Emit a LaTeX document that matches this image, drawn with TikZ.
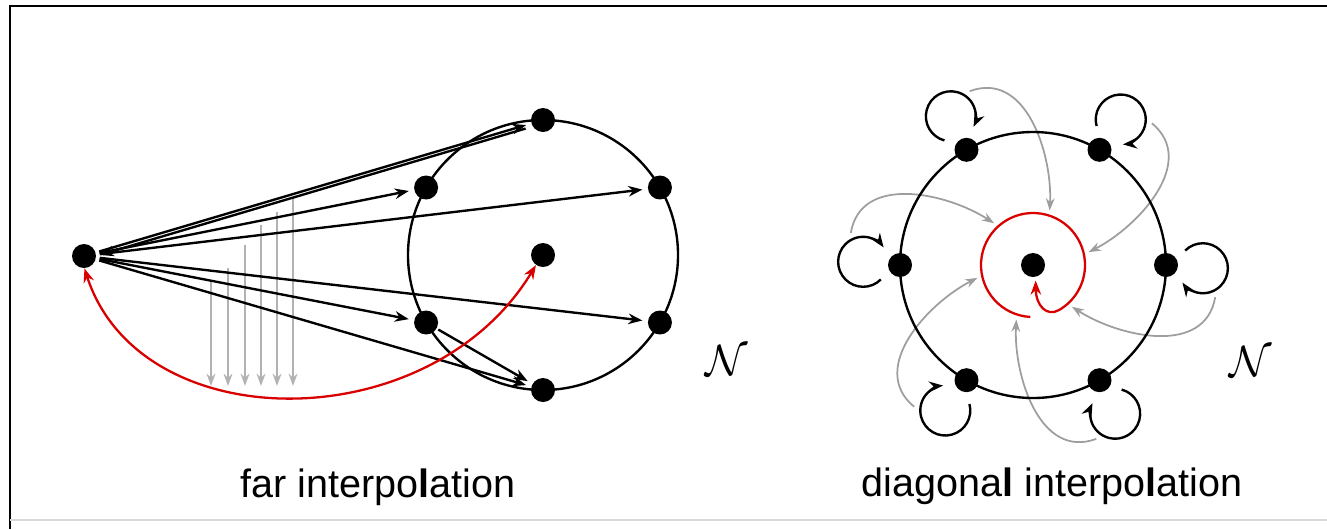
\documentclass[tikz,border=0pt]{standalone}
\usepackage{fontspec}
\setmainfont{Liberation Sans}
\usetikzlibrary{arrows.meta,calc}
\begin{document}
\begin{tikzpicture}[x=0.02cm,y=0.02cm,
  dot/.style={circle,fill=black,inner sep=0pt,minimum size=0.48cm},
  blk/.style={draw=black,line width=1.35pt},
  arr/.style={blk,-{Stealth[length=8pt,width=6pt]}},
  garr/.style={draw=black!30,line width=1pt,-{Stealth[length=7pt,width=5pt]}},
  garrb/.style={draw=black!38,line width=1pt,-{Stealth[length=7pt,width=5pt]}},
  rarr/.style={draw=red!85!black,line width=1.3pt,{Stealth[length=8pt,width=6pt]}-{Stealth[length=8pt,width=6pt]}},
  rspir/.style={draw=red!85!black,line width=1.3pt,-{Stealth[length=8pt,width=6pt]}},
  lbl/.style={font=\fontsize{22.5}{27}\selectfont,anchor=base,inner sep=0pt},
  nlbl/.style={font=\fontsize{33}{40}\selectfont,inner sep=0pt}]
\useasboundingbox (0,0) rectangle (1327,-529);
% frame
\draw[line width=1.3pt] (10,-529) -- (10,-6) -- (1327,-6);
\draw[black!15,line width=0.8pt] (10,-520) -- (1327,-520);

% ---------------- left: far interpolation ----------------
\coordinate (LC) at (543,-255);
\draw[blk] (LC) circle (135);
\node[dot] (S) at (84,-256) {};
\node[dot] (T)  at ($(LC)+(90:135)$) {};
\node[dot] (UL) at ($(LC)+(150:135)$) {};
\node[dot] (UR) at ($(LC)+(30:135)$) {};
\node[dot] (LL) at ($(LC)+(-150:135)$) {};
\node[dot] (LR) at ($(LC)+(-30:135)$) {};
\node[dot] (B)  at ($(LC)+(-90:135)$) {};
\node[dot] (C)  at (LC) {};

% gray vertical arrows
\foreach \gx/\gt [count=\k] in {211/280,228/268,245/245,261/225,277/212,293/197}{
  \coordinate (ga\k) at (\gx,-\gt);
  \coordinate (gb\k) at (\gx,-386);
  \draw[garr] (ga\k) -- (gb\k);
}

% fan of black arrows
\foreach \n in {T,UL,UR,LL,LR,B}{
  \draw[arr,shorten >=3pt,shorten <=2pt] (S) -- (\n);
}
\draw[arr,shorten >=2pt,shorten <=3pt] ([yshift=-4pt]T.west) -- (S.east);
\draw[arr,shorten >=3pt,shorten <=1pt] (LL) -- (B);

% red curve
\draw[rarr] (S.-88) .. controls (140,-440) and (430,-440) .. (C.-125);

\node[nlbl] (N1) at (727,-361) {$\mathcal{N}$};
\node[lbl] (t1) at (378,-497) {far interpo\textbf{l}ation};

% ---------------- right: diagonal interpolation ----------------
\coordinate (RC) at (1033,-265);
% gray pinwheel arrows
\foreach \a [evaluate=\a as \b using \a-18,
             evaluate=\a as \c using \a-30,
             evaluate=\a as \d using \a-37] in {110,50,-10,-70,-130,170}{
  \draw[garrb] ($(RC)+(\a:185)$) .. controls ($(RC)+(\b:195)$) and ($(RC)+(\c:112)$) .. ($(RC)+(\d:57)$);
}
\draw[blk] (RC) circle (133);
\node[dot] (C2) at (RC) {};
\foreach \i/\t [evaluate=\t as \p using \t-5,
                evaluate=\t as \s using \t+135,
                evaluate=\t as \e using \t-145] in {0/0,1/60,2/120,3/180,4/240,5/300}{
  \node[dot] (n\i) at ($(RC)+(\t:133)$) {};
  \draw[arr] ($(n\i)+(\p:37)+(\s:25)$) arc[start angle=\s,end angle=\e,radius=25];
}
% red spiral
\draw[rspir,shorten >=2pt] ($(C2)+(-93:52)$) arc[start angle=-93,end angle=-420,radius=52]
   .. controls (1047,-317) and (1036,-306) .. (C2.-78);

\node[nlbl] (N2) at (1251,-362) {$\mathcal{N}$};
\node[lbl] (t2) at (1052,-496) {diagona\textbf{l} interpo\textbf{l}ation};
\end{tikzpicture}
\end{document}
